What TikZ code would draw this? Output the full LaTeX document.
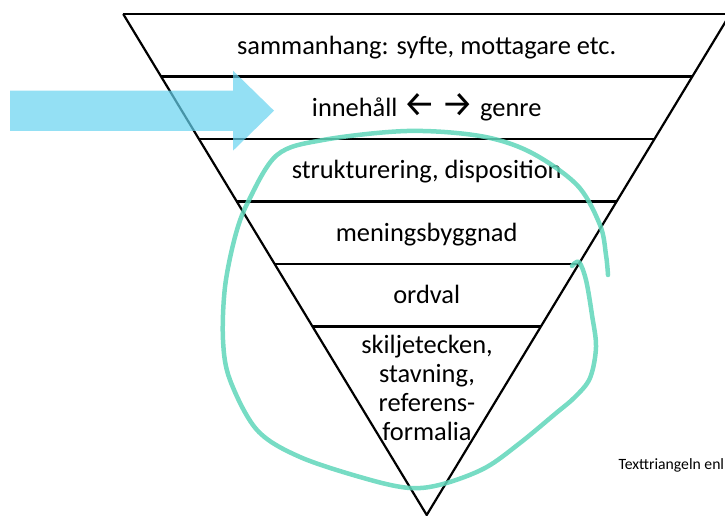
\documentclass[tikz,border=0pt]{standalone}
\usepackage{fontspec}
\setmainfont{Carlito}
\newfontfamily\arrowfont{Fira Sans}
\usepackage{tikz}
\usetikzlibrary{positioning,calc}

\definecolor{pilblue}{RGB}{102,211,239}
\definecolor{ringteal}{RGB}{95,214,186}

\newcommand{\bigarr}[1]{{\arrowfont\fontsize{36bp}{36bp}\selectfont #1}}

\tikzset{
    lvl/.style={anchor=base, inner sep=0pt, font=\fontsize{26.4bp}{29.3bp}\selectfont},
    band/.style={line width=2.2bp, black},
    ring/.style={line width=4.5bp, ringteal, opacity=.85, line cap=round, line join=round}
}

\begin{document}
\begin{tikzpicture}[x=1bp, y=-1bp]
    \useasboundingbox (0,0) rectangle (725,516);
    \clip (0,0) rectangle (725,516);

    % Triangle
    \coordinate (apex) at (426.7,515);
    \foreach \k in {0,...,5} {
        \pgfmathsetmacro{\yy}{14+62.5*\k}
        \pgfmathsetmacro{\hw}{0.607*(515-\yy)}
        \draw[band] (426.7-\hw,\yy) -- (426.7+\hw,\yy);
    }
    \draw[band, line join=miter] (426.7-303.5,14) -- (apex) -- (426.7+303.5,14);

    % Levels
    \node[lvl] (sam) at (426.7,54.3) {sammanhang: syfte, mottagare etc.};
    \node[lvl] (inn) at (426.7,116.7) {innehåll \bigarr{←} \bigarr{→} genre};
    \node[lvl] (str) at (426.7,179) {strukturering, disposition};
    \node[lvl] (men) at (426.7,241.3) {meningsbyggnad};
    \node[lvl] (ord) at (426.7,303.5) {ordval};
    \node[lvl, anchor=north, align=center] (skil) at (427,334.5)
        {skiljetecken,\\stavning,\\referens-\\formalia};

    % Source note
    \node[anchor=base west, inner sep=0pt, font=\fontsize{15.7bp}{18bp}\selectfont] (src) at (618.3,469.3) {Texttriangeln enl};

    % Arrow
    \fill[pilblue, opacity=.7] (10,90.7) -- (233,90.7) -- (233,70.7) -- (274,110.7)
        -- (233,150.7) -- (233,131) -- (10,131) -- cycle;

    % Hand drawn ring
    \draw[ring] plot[smooth, tension=0.55] coordinates {
        (572,266) (579,262) (586,280) (592,315) (596,347) (590,378) (575,397)
        (555,414) (520,443) (485,468) (443,484) (410,488) (367,479) (300,457)
        (257,430) (230,380) (223,340) (225,287) (235,237) (248,202) (277,155)
        (323,140) (407,131) (480,136) (530,152) (577,185) (600,225) (606,255) (608,275)};
\end{tikzpicture}
\end{document}
